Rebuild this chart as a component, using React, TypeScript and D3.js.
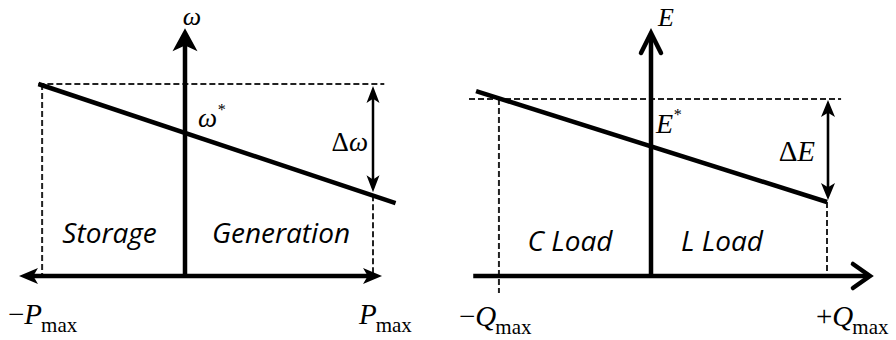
import React from "react";
import * as d3 from "d3";

// ---- Frequency droop (ω vs P) ----
const P_MARKS = [-0.76, 1]; // −Pmax, Pmax
const P_AXIS = [-0.883, 1.048];
const OMEGA_AXIS_TOP = 1.29;
const OMEGA_REF = 1;
const OMEGA_REF_SPAN = [-0.78, 1.06];
const OMEGA_DROOP = [
  { x: -0.78, y: 1.0 },
  { x: 1.12, y: 0.38 },
];
const OMEGA_AT_PMAX = 0.42;
const OMEGA_STAR = 0.745;
const P_REGIONS = ["Storage", "Generation"];

// ---- Voltage droop (E vs Q) ----
const Q_MARKS = [-0.864, 1]; // −Qmax, +Qmax
const Q_AXIS = [-1.01, 1.244];
const E_AXIS_TOP = 1.373;
const E_REF = 1;
const E_REF_SPAN = [-1.034, 1.08];
const E_DROOP = [
  { x: -0.994, y: 1.045 },
  { x: 1.0, y: 0.418 },
];
const E_AT_QMAX = 0.418;
const E_STAR = 0.733;
const Q_REGIONS = ["C Load", "L Load"];

const W = 896;
const H = 340;
const INK = "#000";
const MATH = "'Liberation Serif', 'DejaVu Serif', serif";
const SANS = "'Open Sans', 'Noto Sans', sans-serif";

// left panel scales
const xP = d3.scaleLinear().domain([0, 1]).range([185, 373]);
const yW = d3.scaleLinear().domain([0, 1]).range([276, 84]);
// right panel scales
const xQ = d3.scaleLinear().domain([0, 1]).range([651, 827]);
const yE = d3.scaleLinear().domain([0, 1]).range([276, 99]);

const line = d3
  .line<{ x: number; y: number }>()
  .x((d) => d.x)
  .y((d) => d.y);

// filled triangular head; tip at (x,y), pointing along angle (radians)
function Head({ x, y, angle, len, half }: { x: number; y: number; angle: number; len: number; half: number }) {
  const c = Math.cos(angle);
  const s = Math.sin(angle);
  const bx = x - c * len;
  const by = y - s * len;
  const pts = [
    [x, y],
    [bx - s * half, by + c * half],
    [x - c * len * 0.75, y - s * len * 0.75],
    [bx + s * half, by - c * half],
  ];
  return <polygon points={pts.map((p) => p.join(",")).join(" ")} fill={INK} />;
}

// open chevron head
function Chevron({ x, y, angle, len, half }: { x: number; y: number; angle: number; len: number; half: number }) {
  const c = Math.cos(angle);
  const s = Math.sin(angle);
  const bx = x - c * len;
  const by = y - s * len;
  const pts = [
    [bx - s * half, by + c * half],
    [x, y],
    [bx + s * half, by - c * half],
  ];
  return (
    <polyline
      points={pts.map((p) => p.join(",")).join(" ")}
      fill="none"
      stroke={INK}
      strokeWidth={4.5}
      strokeLinejoin="miter"
      strokeLinecap="round"
    />
  );
}

function Dashed({ x1, y1, x2, y2 }: { x1: number; y1: number; x2: number; y2: number }) {
  return <line x1={x1} y1={y1} x2={x2} y2={y2} stroke="#222" strokeWidth={2} strokeDasharray="6,3" />;
}

function Sub({ x, y, sign, main }: { x: number; y: number; sign: string; main: string }) {
  return (
    <text x={x} y={y} fontFamily={MATH} fontSize={29} fill={INK}>
      {sign}
      <tspan fontStyle="italic">{main}</tspan>
      <tspan fontSize={21} dy={8} dx={-1}>
        max
      </tspan>
    </text>
  );
}

function FrequencyPanel() {
  const y0 = yW(0);
  const x0 = xP(0);
  const xR = xP(P_MARKS[1]);
  const yAt = yW(OMEGA_AT_PMAX);
  const yRef = yW(OMEGA_REF);
  return (
    <g>
      {/* reference level and limits */}
      <Dashed x1={xP(OMEGA_REF_SPAN[0])} y1={yRef} x2={xP(OMEGA_REF_SPAN[1])} y2={yRef} />
      <Dashed x1={xP(P_MARKS[0])} y1={yRef} x2={xP(P_MARKS[0])} y2={y0} />
      <Dashed x1={xR} y1={yAt} x2={xR} y2={y0} />

      {/* axes */}
      <line x1={xP(P_AXIS[0]) + 10} y1={y0} x2={xP(P_AXIS[1]) - 10} y2={y0} stroke={INK} strokeWidth={4.5} />
      <Head x={xP(P_AXIS[0])} y={y0} angle={Math.PI} len={19} half={8} />
      <Head x={xP(P_AXIS[1])} y={y0} angle={0} len={19} half={8} />
      <line x1={x0} y1={y0} x2={x0} y2={yW(OMEGA_AXIS_TOP) + 12} stroke={INK} strokeWidth={4.5} />
      <Head x={x0} y={yW(OMEGA_AXIS_TOP)} angle={-Math.PI / 2} len={23} half={12.5} />

      {/* droop characteristic */}
      <path
        d={line(OMEGA_DROOP.map((d) => ({ x: xP(d.x), y: yW(d.y) }))) ?? ""}
        fill="none"
        stroke={INK}
        strokeWidth={4.5}
      />

      {/* Δω span */}
      <line x1={xR} y1={yRef + 10} x2={xR} y2={yAt - 10} stroke={INK} strokeWidth={2.5} />
      <Head x={xR} y={yRef + 2} angle={-Math.PI / 2} len={17} half={6.5} />
      <Head x={xR} y={yAt - 3} angle={Math.PI / 2} len={17} half={6.5} />

      {/* labels */}
      <text x={x0 + 7} y={25} fontFamily={MATH} fontStyle="italic" fontSize={26} fill={INK} textAnchor="middle">
        ω
      </text>
      <text x={x0 + 13} y={yW(OMEGA_STAR) - 6} fontFamily={MATH} fontStyle="italic" fontSize={27} fill={INK}>
        ω<tspan fontSize={16} dy={-12}>*</tspan>
      </text>
      <text x={xR - 5} y={151} fontFamily={MATH} fontSize={27} fill={INK} textAnchor="end">
        Δ<tspan fontStyle="italic">ω</tspan>
      </text>
      <text x={(xP(P_MARKS[0]) + x0) / 2 - 4} y={243} fontFamily={SANS} fontStyle="italic" fontSize={28} fill={INK} textAnchor="middle">
        {P_REGIONS[0]}
      </text>
      <text x={(x0 + xR) / 2 + 2} y={243} fontFamily={SANS} fontStyle="italic" fontSize={28} fill={INK} textAnchor="middle">
        {P_REGIONS[1]}
      </text>
      <Sub x={8} y={324} sign="−" main="P" />
      <Sub x={359} y={324} sign="" main="P" />
    </g>
  );
}

function VoltagePanel() {
  const y0 = yE(0);
  const x0 = xQ(0);
  const xL = xQ(Q_MARKS[0]);
  const xR = xQ(Q_MARKS[1]);
  const yAt = yE(E_AT_QMAX);
  const yRef = yE(E_REF);
  return (
    <g>
      <Dashed x1={xQ(E_REF_SPAN[0])} y1={yRef} x2={xQ(E_REF_SPAN[1])} y2={yRef} />
      <Dashed x1={xL} y1={yRef} x2={xL} y2={yE(-0.096)} />
      <Dashed x1={xR} y1={yAt} x2={xR} y2={y0} />

      {/* axes */}
      <line x1={xQ(Q_AXIS[0])} y1={y0} x2={xQ(Q_AXIS[1]) - 3} y2={y0} stroke={INK} strokeWidth={4.5} />
      <Chevron x={xQ(Q_AXIS[1])} y={y0} angle={0} len={17} half={12} />
      <line x1={x0} y1={y0} x2={x0} y2={yE(E_AXIS_TOP) + 3} stroke={INK} strokeWidth={4.5} />
      <Chevron x={x0} y={yE(E_AXIS_TOP)} angle={-Math.PI / 2} len={20} half={10} />

      <path
        d={line(E_DROOP.map((d) => ({ x: xQ(d.x), y: yE(d.y) }))) ?? ""}
        fill="none"
        stroke={INK}
        strokeWidth={4.5}
      />

      {/* ΔE span */}
      <line x1={xR + 1} y1={yRef + 10} x2={xR + 1} y2={yAt - 10} stroke={INK} strokeWidth={2.6} />
      <Head x={xR + 1} y={yRef + 1} angle={-Math.PI / 2} len={17} half={7} />
      <Head x={xR + 1} y={yAt - 2} angle={Math.PI / 2} len={17} half={7} />

      <text x={x0 + 15} y={26} fontFamily={MATH} fontStyle="italic" fontSize={26} fill={INK} textAnchor="middle">
        E
      </text>
      <text x={x0 + 5} y={yE(E_STAR) - 13} fontFamily={MATH} fontStyle="italic" fontSize={28} fill={INK}>
        E<tspan fontSize={16} dy={-13}>*</tspan>
      </text>
      <text x={xR - 12} y={161} fontFamily={MATH} fontSize={29} fill={INK} textAnchor="end">
        Δ<tspan fontStyle="italic">E</tspan>
      </text>
      <text x={(xL + x0) / 2 - 5} y={251} fontFamily={SANS} fontStyle="italic" fontSize={28} fill={INK} textAnchor="middle">
        {Q_REGIONS[0]}
      </text>
      <text x={(x0 + xR) / 2 - 17} y={251} fontFamily={SANS} fontStyle="italic" fontSize={28} fill={INK} textAnchor="middle">
        {Q_REGIONS[1]}
      </text>
      <Sub x={459} y={326} sign="−" main="Q" />
      <Sub x={816} y={326} sign="+" main="Q" />
    </g>
  );
}

export default function App() {
  return (
    <svg
      width={W}
      height={H}
      viewBox={`0 0 ${W} ${H}`}
      style={{ position: "absolute", left: 0, top: 0, background: "#fff" }}
    >
      <rect width={W} height={H} fill="#fff" />
      <FrequencyPanel />
      <VoltagePanel />
    </svg>
  );
}
